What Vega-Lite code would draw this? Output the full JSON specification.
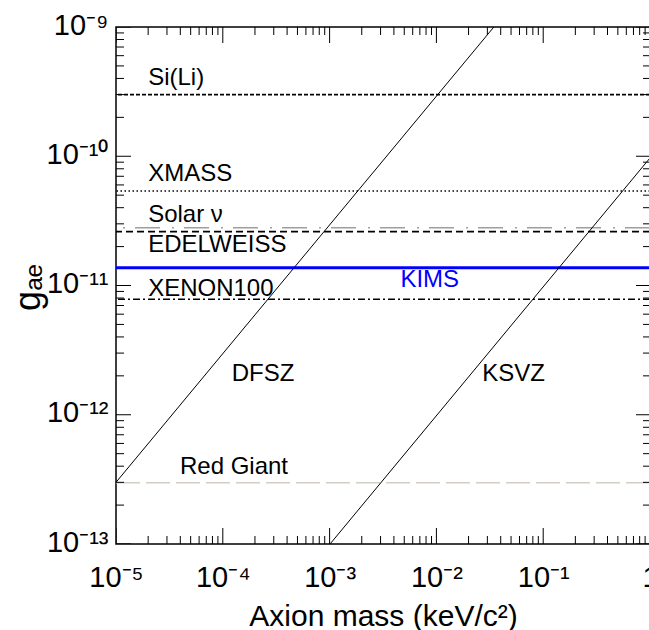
{
  "$schema": "https://vega.github.io/schema/vega-lite/v6.json",
  "width": 534,
  "height": 517,
  "autosize": {"type": "none"},
  "padding": {"left": 116, "top": 27, "right": 0, "bottom": 86},
  "background": "white",
  "config": {"view": {"stroke": "black", "strokeWidth": 1.5}, "font": "Liberation Sans", "axis": {"grid": false, "domain": false}},
  "datasets": {
    "limits": [
      {"name": "Si(Li)", "g": 3.0e-10},
      {"name": "XMASS", "g": 5.38e-11},
      {"name": "Solar ν", "g": 2.80e-11},
      {"name": "EDELWEISS", "g": 2.61e-11},
      {"name": "XENON100", "g": 7.82e-12},
      {"name": "Red Giant", "g": 2.98e-13}
    ],
    "kims": [{"name": "KIMS", "g": 1.373e-11}],
    "models": [
      {"model": "DFSZ", "m": 0.00001, "g": 3.0e-13},
      {"model": "DFSZ", "m": 0.0345, "g": 1.0e-9},
      {"model": "KSVZ", "m": 0.00101, "g": 1.0e-13},
      {"model": "KSVZ", "m": 1, "g": 9.7e-11}
    ],
    "labels": [
      {"label": "Si(Li)", "m": 0.00002, "g": 4.03e-10},
      {"label": "XMASS", "m": 0.00002, "g": 7.25e-11},
      {"label": "Solar ν", "m": 0.00002, "g": 3.51e-11},
      {"label": "EDELWEISS", "m": 0.00002, "g": 2.07e-11},
      {"label": "XENON100", "m": 0.00002, "g": 9.4e-12},
      {"label": "DFSZ", "m": 0.000121, "g": 2.06e-12},
      {"label": "KSVZ", "m": 0.0269, "g": 2.06e-12},
      {"label": "Red Giant", "m": 0.0000397, "g": 3.92e-13}
    ],
    "kimsLabel": [{"label": "KIMS", "m": 0.0046, "g": 1.104e-11}],
    "xMajor": [{"m": 0.00001}, {"m": 0.0001}, {"m": 0.001}, {"m": 0.01}, {"m": 0.1}, {"m": 1}],
    "xMinor": [{"m":0.00002},{"m":0.00003},{"m":0.00004},{"m":0.00005},{"m":0.00006},{"m":0.00007},{"m":0.00008},{"m":0.00009},{"m":0.0002},{"m":0.0003},{"m":0.0004},{"m":0.0005},{"m":0.0006},{"m":0.0007},{"m":0.0008},{"m":0.0009},{"m":0.002},{"m":0.003},{"m":0.004},{"m":0.005},{"m":0.006},{"m":0.007},{"m":0.008},{"m":0.009},{"m":0.02},{"m":0.03},{"m":0.04},{"m":0.05},{"m":0.06},{"m":0.07},{"m":0.08},{"m":0.09},{"m":0.2},{"m":0.3},{"m":0.4},{"m":0.5},{"m":0.6},{"m":0.7},{"m":0.8},{"m":0.9}],
    "yMajor": [{"g": 1e-13}, {"g": 1e-12}, {"g": 1e-11}, {"g": 1e-10}, {"g": 1e-9}],
    "yMinor": [{"g":2e-13},{"g":3e-13},{"g":4e-13},{"g":5e-13},{"g":6e-13},{"g":7e-13},{"g":8e-13},{"g":9e-13},{"g":2e-12},{"g":3e-12},{"g":4e-12},{"g":5e-12},{"g":6e-12},{"g":7e-12},{"g":8e-12},{"g":9e-12},{"g":2e-11},{"g":3e-11},{"g":4e-11},{"g":5e-11},{"g":6e-11},{"g":7e-11},{"g":8e-11},{"g":9e-11},{"g":2e-10},{"g":3e-10},{"g":4e-10},{"g":5e-10},{"g":6e-10},{"g":7e-10},{"g":8e-10},{"g":9e-10}]
  },
  "layer": [
    {
      "data": {"name": "limits"},
      "mark": {"type": "rule", "strokeWidth": 1.6},
      "encoding": {
        "y": {"field": "g", "type": "quantitative", "scale": {"type": "log", "domain": [1e-13, 1e-9], "nice": false}, "axis": null},
        "color": {"field": "name", "type": "nominal", "legend": null,
          "scale": {"domain": ["Si(Li)", "XMASS", "Solar ν", "EDELWEISS", "XENON100", "Red Giant"],
                    "range": ["black", "black", "#9e9e9e", "black", "black", "#d3cdc8"]}},
        "strokeDash": {"field": "name", "type": "nominal", "legend": null,
          "scale": {"domain": ["Si(Li)", "XMASS", "Solar ν", "EDELWEISS", "XENON100", "Red Giant"],
                    "range": [[4, 2], [1.5, 2.5], [25, 10, 2, 12], [7, 4], [7, 3, 2, 3], [24, 6]]}}
      }
    },
    {
      "data": {"name": "kims"},
      "mark": {"type": "rule", "strokeWidth": 3, "color": "#0000ff"},
      "encoding": {
        "y": {"field": "g", "type": "quantitative", "scale": {"type": "log", "domain": [1e-13, 1e-9], "nice": false}, "axis": null}
      }
    },
    {
      "data": {"name": "models"},
      "mark": {"type": "line", "color": "black", "strokeWidth": 1, "clip": true},
      "encoding": {
        "x": {"field": "m", "type": "quantitative", "scale": {"type": "log", "domain": [0.00001, 1], "nice": false},
          "axis": {
            "orient": "bottom",
            "values": [0.00001, 0.0001, 0.001, 0.01, 0.1, 1],
            "labelExpr": "['1','10⁻¹','10⁻²','10⁻³','10⁻⁴','10⁻⁵'][-round(log(datum.value)/LN10)]",
            "ticks": false, "tickSize": 0,
            "labelFont": "Liberation Sans", "labelFontSize": 29, "labelColor": "black",
            "labelBaseline": "alphabetic", "labelPadding": 42,
            "labelFlush": false, "labelOverlap": false, "labelBound": false,
            "title": "Axion mass (keV/c²)",
            "titleFont": "Liberation Sans", "titleFontSize": 30, "titleFontWeight": "normal", "titleColor": "black",
            "titleBaseline": "alphabetic", "titleAlign": "center", "titleX": 267, "titleY": 81
          }},
        "y": {"field": "g", "type": "quantitative", "scale": {"type": "log", "domain": [1e-13, 1e-9], "nice": false},
          "axis": {
            "orient": "left",
            "values": [1e-13, 1e-12, 1e-11, 1e-10, 1e-9],
            "labelExpr": "['10⁻⁹','10⁻¹⁰','10⁻¹¹','10⁻¹²','10⁻¹³'][-round(log(datum.value)/LN10)-9]",
            "ticks": false, "tickSize": 0,
            "labelFont": "Liberation Sans", "labelFontSize": 29, "labelColor": "black",
            "labelBaseline": "middle", "labelAlign": "right", "labelPadding": 8, "labelOffset": -2,
            "labelFlush": false, "labelOverlap": false, "labelBound": false,
            "title": "gₐₑ",
            "titleFont": "Liberation Sans", "titleFontSize": 36, "titleFontWeight": "normal", "titleColor": "black",
            "titleAngle": -90, "titleAlign": "center", "titleBaseline": "middle", "titleX": -88, "titleY": 260
          }},
        "detail": {"field": "model", "type": "nominal"}
      }
    },
    {
      "data": {"name": "labels"},
      "mark": {"type": "text", "align": "left", "baseline": "middle", "font": "Liberation Sans", "fontSize": 24, "color": "black"},
      "encoding": {
        "x": {"field": "m", "type": "quantitative", "scale": {"type": "log", "domain": [0.00001, 1], "nice": false}, "axis": null},
        "y": {"field": "g", "type": "quantitative", "scale": {"type": "log", "domain": [1e-13, 1e-9], "nice": false}, "axis": null},
        "text": {"field": "label", "type": "nominal"}
      }
    },
    {
      "data": {"name": "kimsLabel"},
      "mark": {"type": "text", "align": "left", "baseline": "middle", "font": "Liberation Sans", "fontSize": 24, "color": "#0000ff"},
      "encoding": {
        "x": {"field": "m", "type": "quantitative", "scale": {"type": "log", "domain": [0.00001, 1], "nice": false}, "axis": null},
        "y": {"field": "g", "type": "quantitative", "scale": {"type": "log", "domain": [1e-13, 1e-9], "nice": false}, "axis": null},
        "text": {"field": "label", "type": "nominal"}
      }
    },
    {
      "data": {"name": "xMajor"},
      "mark": {"type": "tick", "orient": "vertical", "size": 32, "thickness": 1, "color": "black", "opacity": 1, "clip": true},
      "encoding": {
        "x": {"field": "m", "type": "quantitative", "scale": {"type": "log", "domain": [0.00001, 1], "nice": false}, "axis": null},
        "y": {"datum": 1e-13, "type": "quantitative", "scale": {"type": "log", "domain": [1e-13, 1e-9], "nice": false}, "axis": null}
      }
    },
    {
      "data": {"name": "xMajor"},
      "mark": {"type": "tick", "orient": "vertical", "size": 32, "thickness": 1, "color": "black", "opacity": 1, "clip": true},
      "encoding": {
        "x": {"field": "m", "type": "quantitative", "scale": {"type": "log", "domain": [0.00001, 1], "nice": false}, "axis": null},
        "y": {"datum": 1e-9, "type": "quantitative", "scale": {"type": "log", "domain": [1e-13, 1e-9], "nice": false}, "axis": null}
      }
    },
    {
      "data": {"name": "xMinor"},
      "mark": {"type": "tick", "orient": "vertical", "size": 16, "thickness": 1, "color": "black", "opacity": 1, "clip": true},
      "encoding": {
        "x": {"field": "m", "type": "quantitative", "scale": {"type": "log", "domain": [0.00001, 1], "nice": false}, "axis": null},
        "y": {"datum": 1e-13, "type": "quantitative", "scale": {"type": "log", "domain": [1e-13, 1e-9], "nice": false}, "axis": null}
      }
    },
    {
      "data": {"name": "xMinor"},
      "mark": {"type": "tick", "orient": "vertical", "size": 16, "thickness": 1, "color": "black", "opacity": 1, "clip": true},
      "encoding": {
        "x": {"field": "m", "type": "quantitative", "scale": {"type": "log", "domain": [0.00001, 1], "nice": false}, "axis": null},
        "y": {"datum": 1e-9, "type": "quantitative", "scale": {"type": "log", "domain": [1e-13, 1e-9], "nice": false}, "axis": null}
      }
    },
    {
      "data": {"name": "yMajor"},
      "mark": {"type": "tick", "orient": "horizontal", "size": 30, "thickness": 1, "color": "black", "opacity": 1, "clip": true},
      "encoding": {
        "x": {"datum": 0.00001, "type": "quantitative", "scale": {"type": "log", "domain": [0.00001, 1], "nice": false}, "axis": null},
        "y": {"field": "g", "type": "quantitative", "scale": {"type": "log", "domain": [1e-13, 1e-9], "nice": false}, "axis": null}
      }
    },
    {
      "data": {"name": "yMajor"},
      "mark": {"type": "tick", "orient": "horizontal", "size": 28, "thickness": 1, "color": "black", "opacity": 1, "clip": true},
      "encoding": {
        "x": {"datum": 1, "type": "quantitative", "scale": {"type": "log", "domain": [0.00001, 1], "nice": false}, "axis": null},
        "y": {"field": "g", "type": "quantitative", "scale": {"type": "log", "domain": [1e-13, 1e-9], "nice": false}, "axis": null}
      }
    },
    {
      "data": {"name": "yMinor"},
      "mark": {"type": "tick", "orient": "horizontal", "size": 16, "thickness": 1, "color": "black", "opacity": 1, "clip": true},
      "encoding": {
        "x": {"datum": 0.00001, "type": "quantitative", "scale": {"type": "log", "domain": [0.00001, 1], "nice": false}, "axis": null},
        "y": {"field": "g", "type": "quantitative", "scale": {"type": "log", "domain": [1e-13, 1e-9], "nice": false}, "axis": null}
      }
    },
    {
      "data": {"name": "yMinor"},
      "mark": {"type": "tick", "orient": "horizontal", "size": 14, "thickness": 1, "color": "black", "opacity": 1, "clip": true},
      "encoding": {
        "x": {"datum": 1, "type": "quantitative", "scale": {"type": "log", "domain": [0.00001, 1], "nice": false}, "axis": null},
        "y": {"field": "g", "type": "quantitative", "scale": {"type": "log", "domain": [1e-13, 1e-9], "nice": false}, "axis": null}
      }
    }
  ],
  "resolve": {"axis": {"x": "independent", "y": "independent"}}
}
